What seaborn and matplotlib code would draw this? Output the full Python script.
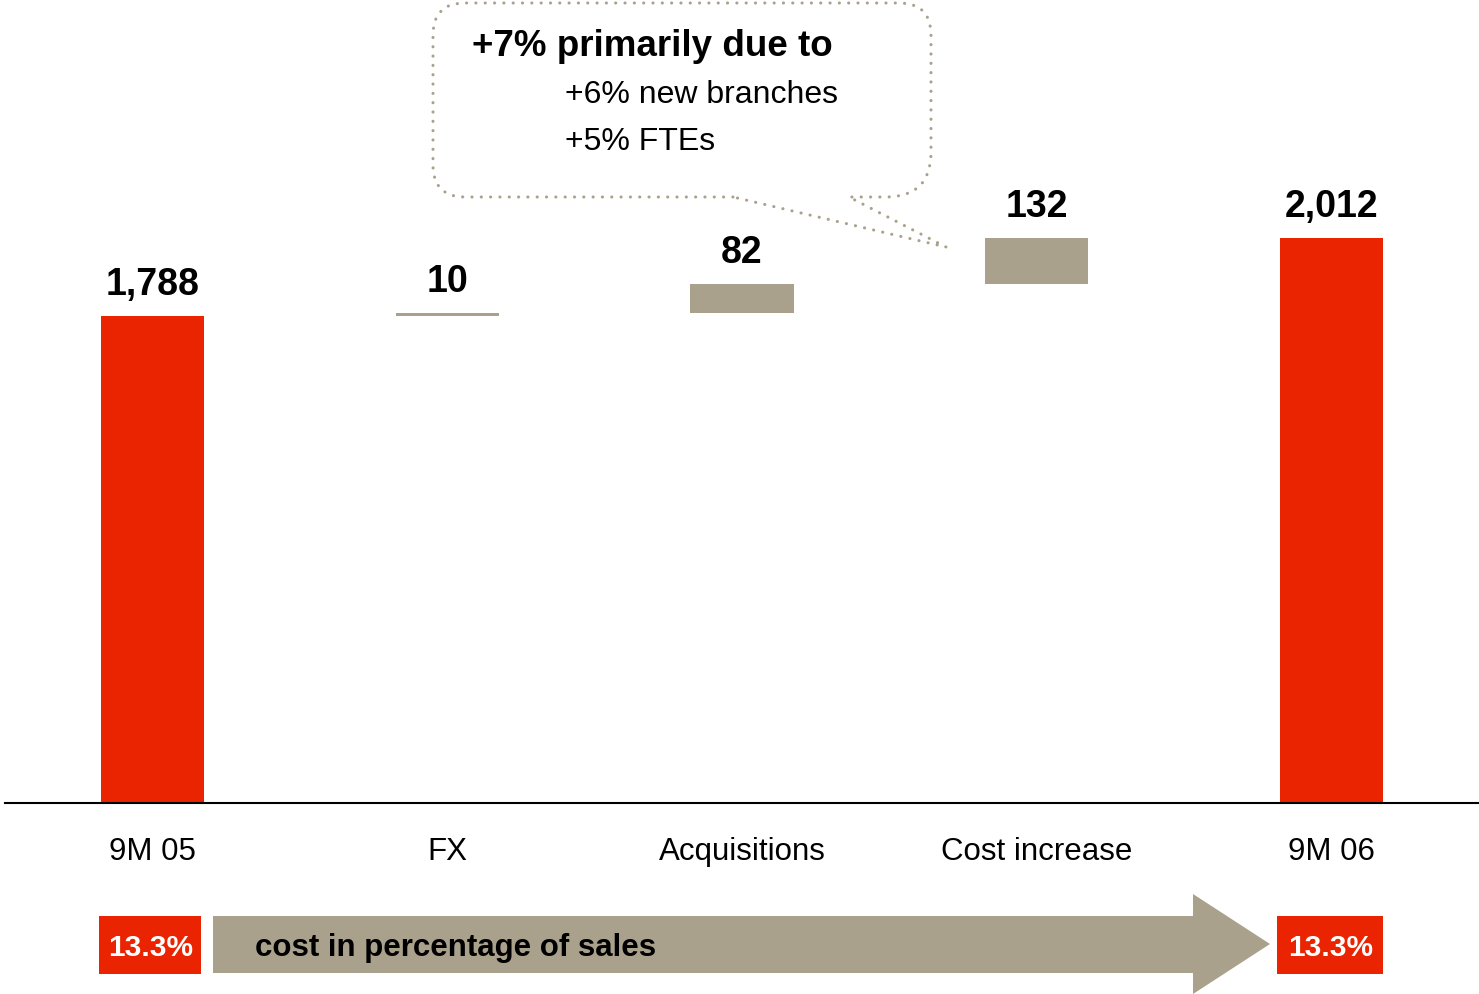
import numpy as np
import pandas as pd
import matplotlib
matplotlib.use("Agg")
import matplotlib.pyplot as plt
from matplotlib.path import Path
from matplotlib.patches import PathPatch, Polygon, Rectangle
import seaborn as sns

# ---- data ----
categories = ["9M 05", "FX", "Acquisitions", "Cost increase", "9M 06"]
values = [1788, 10, 82, 132, 2012]
value_labels = ["1,788", "10", "82", "132", "2,012"]
is_total = [True, False, False, False, True]
pct_start = "13.3%"
pct_end = "13.3%"
callout_title = "+7% primarily due to"
callout_lines = ["+6% new branches", "+5% FTEs"]
arrow_text = "cost in percentage of sales"

RED = "#EA2300"
TAN = "#A9A18B"

# waterfall bottoms
bottoms = []
running = 0
for v, t in zip(values, is_total):
    if t:
        bottoms.append(0)
        running = v
    else:
        bottoms.append(running)
        running += v

df = pd.DataFrame({"category": categories, "value": values, "bottom": bottoms})

sns.set_theme(style="white")
plt.rcParams["font.family"] = ["Liberation Sans", "DejaVu Sans"]

W, H = 1479, 994
fig = plt.figure(figsize=(W / 100, H / 100), dpi=100)
ax = fig.add_axes([5 / W, (H - 803) / H, 1 - 5 / W, 803 / H])

sns.barplot(data=df, x="category", y="value", bottom=df["bottom"].values,
            width=0.35, saturation=1, errorbar=None, linewidth=0, ax=ax,
            order=categories, color=RED)
for p, t in zip(ax.patches, is_total):
    p.set_facecolor(RED if t else TAN)
    p.set_edgecolor("none")

ax.set_xlim(-0.5, 4.5)
ax.set_ylim(389.4, 2695.5)
ax.set_yticks([])
ax.set_xlabel("")
ax.set_ylabel("")
for s in ["left", "right", "top"]:
    ax.spines[s].set_visible(False)
ax.spines["bottom"].set_color("black")
ax.spines["bottom"].set_linewidth(1.5)
ax.tick_params(axis="x", length=0, pad=24.5, labelsize=22.5, labelcolor="black")
ax.set_facecolor("none")

for i, (v, b, lab) in enumerate(zip(values, bottoms, value_labels)):
    ax.annotate(lab, xy=(i, b + v), xytext=(0, 15), textcoords="offset points",
                ha="center", va="baseline", fontsize=27, fontweight="bold",
                color="black")

# ---- overlay for decorations (pixel coordinates) ----
ov = fig.add_axes([0, 0, 1, 1])
ov.set_xlim(0, W)
ov.set_ylim(H, 0)
ov.axis("off")
ov.patch.set_alpha(0)

# callout bubble
L, R, T, B = 433, 931, 3, 197
r = 32
rb = 45
verts = [
    (733, B), (L + r, B), (L, B), (L, B - r),
    (L, T + r), (L, T), (L + r, T),
    (R - r, T), (R, T), (R, T + r),
    (R, B - rb), (R, B), (R - rb, B),
    (849, B), (946, 247), (733, B),
]
codes = [
    Path.MOVETO, Path.LINETO, Path.CURVE3, Path.CURVE3,
    Path.LINETO, Path.CURVE3, Path.CURVE3,
    Path.LINETO, Path.CURVE3, Path.CURVE3,
    Path.LINETO, Path.CURVE3, Path.CURVE3,
    Path.LINETO, Path.LINETO, Path.LINETO,
]
bubble = PathPatch(Path(verts, codes), facecolor="none", edgecolor=TAN,
                   linewidth=2.2, linestyle=(0, (0.05, 3.0)),
                   capstyle="round", joinstyle="round")
ov.add_patch(bubble)

ov.text(472, 47, callout_title, ha="left", va="center", fontsize=26.5,
        fontweight="bold", color="black")
ov.text(565, 95, callout_lines[0], ha="left", va="center", fontsize=23,
        color="black")
ov.text(565, 142, callout_lines[1], ha="left", va="center", fontsize=23,
        color="black")

# bottom arrow
arrow = Polygon([(213, 916), (1193, 916), (1193, 894), (1270, 944),
                 (1193, 994), (1193, 973), (213, 973)],
                closed=True, facecolor=TAN, edgecolor="none")
ov.add_patch(arrow)
ov.text(255, 948, arrow_text, ha="left", va="center", fontsize=22.5,
        fontweight="bold", color="black")

ov.add_patch(Rectangle((99, 916), 102, 58, facecolor=RED, edgecolor="none"))
ov.add_patch(Rectangle((1277, 916), 106, 58, facecolor=RED, edgecolor="none"))
ov.text(151, 948, pct_start, ha="center", va="center", fontsize=21.5,
        fontweight="bold", color="white")
ov.text(1331, 948, pct_end, ha="center", va="center", fontsize=21.5,
        fontweight="bold", color="white")

fig.savefig("out.png", dpi=100, facecolor="white")
